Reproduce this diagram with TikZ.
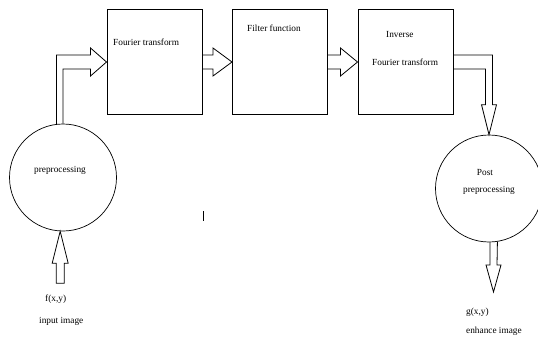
\documentclass[tikz,border=0pt]{standalone}
\usepackage{fontspec}
\setmainfont{Liberation Serif}
\usetikzlibrary{calc}
\begin{document}
\begin{tikzpicture}[x=1pt,y=-1pt,
  box/.style={draw, line width=1pt, minimum width=95pt, minimum height=104pt, inner sep=0pt},
  proc/.style={draw, circle, line width=0.7pt, minimum size=107pt, inner sep=0pt},
  txt/.style={font=\fontsize{9.3}{11}\selectfont, inner sep=0pt},
  fat/.style={draw, line width=0.8pt, line join=miter}]
\useasboundingbox (0,0) rectangle (538,337);
% boxes and circles
\node[box] (ft) at (154.5,62) {};
\node[box] (ff) at (280,62) {};
\node[box] (ift) at (405.5,62) {};
\node[proc] (pre) at (63,177.5) {};
\node[proc] (post) at (489,188.5) {};
% texts
\node[txt, anchor=mid west] (tft) at (113,43) {Fourier transform};
\node[txt, anchor=mid west] (tff) at (247,29) {Filter function};
\node[txt, anchor=mid west] (tinv) at (386,35) {Inverse};
\node[txt, anchor=mid west] (tift) at (372,63) {Fourier transform};
\node[txt, anchor=mid] (tpre) at (60,170) {preprocessing};
\node[txt, anchor=mid] (tpost1) at (485,173) {Post};
\node[txt, anchor=mid] (tpost2) at (489,190) {preprocessing};
\node[txt, anchor=mid west] (tfin) at (45,299) {f(x,y)};
\node[txt, anchor=mid west] (tin) at (39,321) {input image};
\node[txt, anchor=mid west] (tgout) at (466,312) {g(x,y)};
\node[txt, anchor=mid west] (tenh) at (466,331) {enhance image};
% hollow arrows
\draw[fat] (pre.97.5) |- ($(ft.west)+(-16,-7)$) -- ($(ft.west)+(-16,-14)$) -- (ft.west)
  -- ($(ft.west)+(-16,14)$) -- ($(ft.west)+(-16,7)$) -| (pre.north);
\draw[fat] ($(ft.east)+(0,-7)$) -- ($(ff.west)+(-19,-7)$) -- ($(ff.west)+(-19,-14)$) -- (ff.west)
  -- ($(ff.west)+(-19,14)$) -- ($(ff.west)+(-19,7)$) -- ($(ft.east)+(0,7)$);
\draw[fat] ($(ff.east)+(0,-7)$) -- ($(ift.west)+(-17,-7)$) -- ($(ift.west)+(-17,-14)$) -- (ift.west)
  -- ($(ift.west)+(-17,14)$) -- ($(ift.west)+(-17,7)$) -- ($(ff.east)+(0,7)$);
\draw[fat] ($(ift.east)+(0,-7)$) -| ($(post.north)+(3.5,-30)$) -- ($(post.north)+(7.5,-30)$) -- (post.north)
  -- ($(post.north)+(-7.5,-30)$) -- ($(post.north)+(-3.5,-30)$) |- ($(ift.east)+(0,7)$);
\draw[fat] (pre.-93) -- ++(8,32) -- ++(-4,0) -- ++(0,20) -- ++(-8,0) -- ++(0,-20) -- ++(-4,0) -- cycle;
\coordinate (gout) at (493.5,292);
\draw[fat] (post.-89) -- ($(gout)+(-3.5,-27)$) -- ($(gout)+(-7.5,-27)$) -- (gout)
  -- ($(gout)+(7.5,-27)$) -- ($(gout)+(3.5,-27)$) -- (post.-81.4);
% stray mark
\draw[line width=0.8pt] (203,211) -- (203,221);
\end{tikzpicture}
\end{document}
